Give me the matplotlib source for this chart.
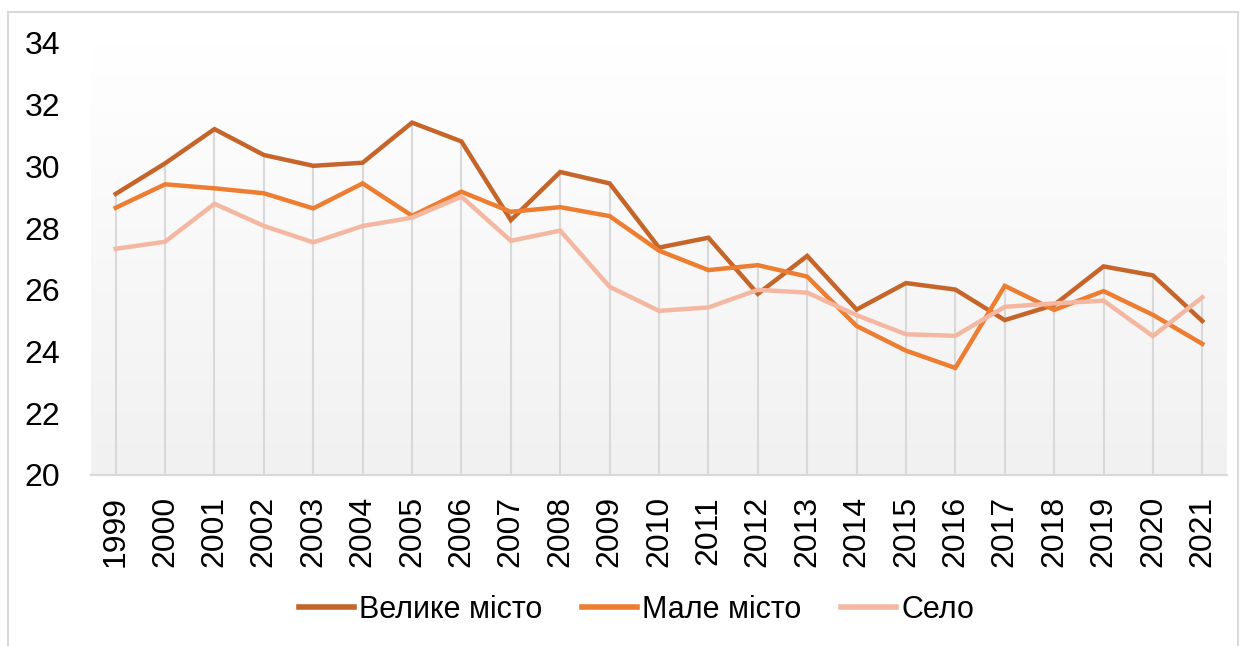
import numpy as np
import matplotlib
matplotlib.use("Agg")
import matplotlib.pyplot as plt
from matplotlib.patches import Rectangle
from matplotlib.lines import Line2D

# === data ===
years = [str(y) for y in range(1999, 2022)]
big_city = [29.11, 30.1, 31.21, 30.37, 30.02, 30.12, 31.42, 30.81, 28.26, 29.82,
            29.45, 27.37, 27.69, 25.87, 27.10, 25.36, 26.22, 26.01, 25.02, 25.51,
            26.76, 26.47, 24.99]
small_city = [28.66, 29.42, 29.29, 29.13, 28.64, 29.45, 28.40, 29.18, 28.53, 28.68,
              28.39, 27.27, 26.64, 26.80, 26.43, 24.83, 24.03, 23.47, 26.13, 25.35,
              25.96, 25.19, 24.25]
village = [27.33, 27.56, 28.79, 28.07, 27.54, 28.07, 28.34, 29.02, 27.59, 27.92,
           26.10, 25.32, 25.43, 26.00, 25.91, 25.18, 24.56, 24.51, 25.45, 25.56,
           25.65, 24.50, 25.76]
labels = ["Велике місто", "Мале місто", "Село"]
colors = ["#C5652A", "#ED7D31", "#F4B7A2"]
y_ticks = [20, 22, 24, 26, 28, 30, 32, 34]

fig = plt.figure(figsize=(12.46, 6.46), dpi=100)
ax = fig.add_axes([91 / 1246, 1 - 475 / 646, 1136 / 1246, 432 / 646])

# outer chart border
fig.patches.append(Rectangle((8 / 1246, -0.01), 1230 / 1246, 1 - 12 / 646 + 0.01,
                             transform=fig.transFigure, fill=False,
                             edgecolor="#d9d9d9", linewidth=1.5))

x = np.arange(len(years))

# gradient background of plot area (white at top -> light gray at bottom)
grad = np.linspace(0, 1, 256).reshape(-1, 1)
cmap = matplotlib.colors.LinearSegmentedColormap.from_list("g", ["#f1f1f1", "#ffffff"])
ax.imshow(grad, extent=(-0.5, len(years) - 0.5, 20, 34), cmap=cmap,
          aspect="auto", zorder=0, origin="lower")

# drop lines
tops = np.max([big_city, small_city, village], axis=0)
ax.vlines(x, 20, tops, color="#d9d9d9", linewidth=1.5, zorder=1)

for vals, c in zip([big_city, small_city, village], colors):
    ax.plot(x, vals, color=c, linewidth=3.2, zorder=3, solid_joinstyle="miter")

ax.set_xlim(-0.5, len(years) - 0.5)
ax.set_ylim(20, 34)
ax.set_yticks(y_ticks)
ax.set_xticks(x)
ax.set_xticklabels(years, rotation=90)
for s in ["top", "right", "left"]:
    ax.spines[s].set_visible(False)
ax.spines["bottom"].set_color("#d9d9d9")
ax.spines["bottom"].set_linewidth(1.5)
ax.tick_params(axis="both", length=0, labelsize=23, colors="black")
ax.tick_params(axis="y", pad=22)
ax.tick_params(axis="x", pad=15)
for t in ax.get_xticklabels() + ax.get_yticklabels():
    t.set_fontfamily(["Liberation Sans", "DejaVu Sans"])

handles = [Line2D([0], [0], color=c, linewidth=4) for c in colors]
fig.legend(handles, labels, loc="center", bbox_to_anchor=(0.511, 1 - 610 / 646),
           ncol=3, frameon=False, handlelength=1.8, handletextpad=0.17,
           columnspacing=1.3,
           prop={"family": ["Liberation Sans", "DejaVu Sans"], "size": 22})

fig.savefig("out.png", dpi=100, facecolor="white")
